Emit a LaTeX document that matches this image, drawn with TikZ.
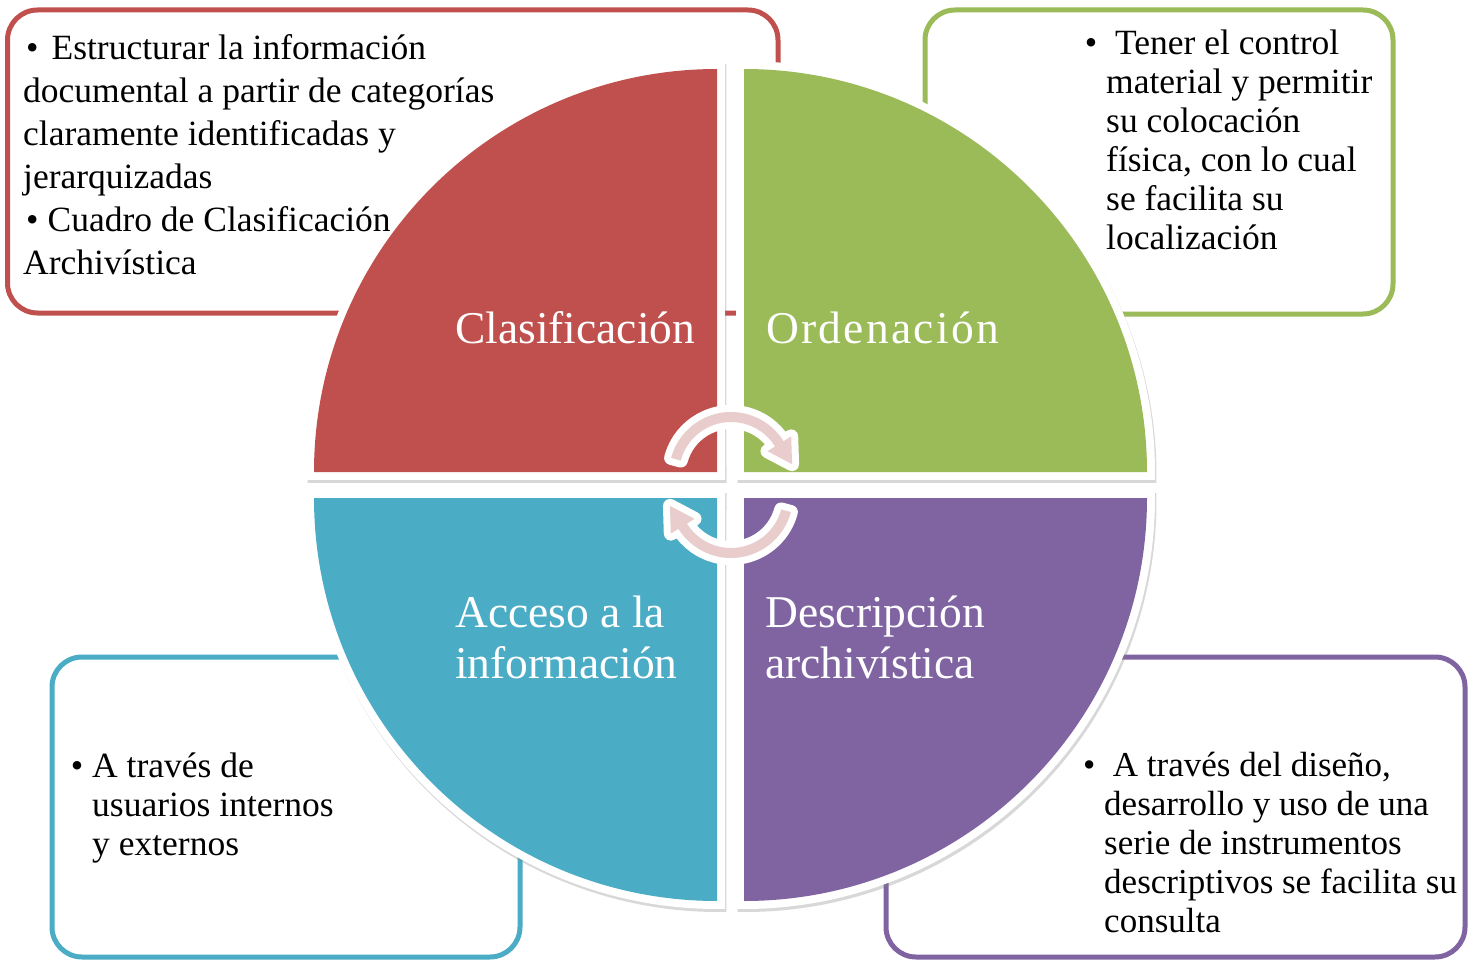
\documentclass[tikz,border=0pt]{standalone}
\usepackage{fontspec}
\setmainfont{Liberation Serif}
\usetikzlibrary{calc,shadows}
\definecolor{qred}{HTML}{C0504D}
\definecolor{qgreen}{HTML}{9BBB59}
\definecolor{qblue}{HTML}{4BACC6}
\definecolor{qpurple}{HTML}{8064A2}
\definecolor{apink}{RGB}{233,205,205}
\newcommand\mylines[2]{\vtop{\baselineskip=#1\lineskiplimit=-100pt\relax #2}}
\newcommand\myquad[3]{%
  \path[qwhite] ($(#1)+({#2+225}:11.31)$) -- ($(#1)+({#2-1.1}:411)$)
     arc[start angle={#2-1.1}, end angle={#2+91.1}, radius=411] -- cycle;
  \fill[#3] (#1) -- ($(#1)+(#2:403)$) arc[start angle=#2, end angle={#2+90}, radius=403] -- cycle;
}
\begin{document}
\begin{tikzpicture}[x=1pt,y=-1pt,
  txt/.style={font=\fontsize{35.5}{39}\selectfont, inner sep=0pt, anchor=base west, text=black},
  lbl/.style={font=\fontsize{45.5}{51}\selectfont, inner sep=0pt, anchor=base west, text=white},
  tbox/.style={draw=#1, line width=5pt, fill=white, rounded corners=30pt, inner sep=0pt},
  qwhite/.style={fill=white, drop shadow={opacity=0.3, shadow xshift=1.5pt, shadow yshift=-3pt}},
  arrowst/.style={drop shadow={opacity=0.35, shadow xshift=3pt, shadow yshift=-4pt},
     preaction={draw=white, line width=14pt, line join=round}, fill=apink}
]
\fill[white] (0,0) rectangle (1468,960);
\useasboundingbox (0,0) rectangle (1468,960);

% text boxes
\node[tbox=qred, minimum width=770.5pt, minimum height=303pt] (boxR) at (392.75,161.5) {};
\node[tbox=qgreen, minimum width=468pt, minimum height=304pt] (boxG) at (1159,162) {};
\node[tbox=qblue, minimum width=468pt, minimum height=300pt] (boxB) at (286,807) {};
\node[tbox=qpurple, minimum width=579pt, minimum height=300pt] (boxP) at (1175.5,807) {};

% quadrants
\coordinate (cR) at (717,472);
\coordinate (cG) at (744,472);
\coordinate (cB) at (717,498);
\coordinate (cP) at (744,498);
\myquad{cR}{180}{qred}
\myquad{cG}{270}{qgreen}
\myquad{cB}{90}{qblue}
\myquad{cP}{0}{qpurple}

% box texts
\node[txt] (tR) at (23,60) {\mylines{43pt}{%
  \hbox{\hspace*{3pt}\textbullet\hspace{13pt}Estructurar la informaci\'on}%
  \hbox{documental a partir de categor\'{\i}as}%
  \hbox{claramente identificadas y}%
  \hbox{jerarquizadas}%
  \hbox{\hspace*{3pt}\textbullet\hspace{9pt}Cuadro de Clasificaci\'on}%
  \hbox{Archiv\'{\i}stica}}};
\node[txt] (tG) at (1106,55) {\mylines{39pt}{%
  \hbox{\llap{\textbullet\ }\ Tener el control}%
  \hbox{material y permitir}%
  \hbox{su colocaci\'on}%
  \hbox{f\'{\i}sica, con lo cual}%
  \hbox{se facilita su}%
  \hbox{localizaci\'on}}};
\node[txt] (tB) at (92,777) {\mylines{39pt}{%
  \hbox{\llap{\textbullet\ }A trav\'es de}%
  \hbox{usuarios internos}%
  \hbox{y externos}}};
\node[txt, font=\fontsize{35}{39}\selectfont] (tP) at (1104,776) {\mylines{39pt}{%
  \hbox{\llap{\textbullet\ }\ A trav\'es del dise\~no,}%
  \hbox{desarrollo y uso de una}%
  \hbox{serie de instrumentos}%
  \hbox{descriptivos se facilita su}%
  \hbox{consulta}}};

% quadrant labels
\node[lbl] (lC) at (455,343) {Clasificaci\'on};
\node[lbl] (lO) at (766,343) {\addfontfeatures{LetterSpace=5}Ordenaci\'on};
\node[lbl] (lA) at (455,627) {\mylines{51pt}{\hbox{Acceso a la}\hbox{informaci\'on}}};
\node[lbl] (lD) at (765,627) {\mylines{51pt}{\hbox{Descripci\'on}\hbox{archiv\'{\i}stica}}};

% circular arrows
\coordinate (c1) at (731,474);
\coordinate (c2) at (731,496);
\path[arrowst] ($(c1)+(195:62)$) arc[start angle=195, end angle=328, radius=62]
  -- ($(c1)+(328:71)$) -- ($(c1)+(328:57)+(58:24)$) -- ($(c1)+(328:43)$)
  -- ($(c1)+(328:52)$) arc[start angle=328, end angle=195, radius=52] -- cycle;
\path[arrowst] ($(c2)+(15:62)$) arc[start angle=15, end angle=148, radius=62]
  -- ($(c2)+(148:71)$) -- ($(c2)+(148:57)+(238:24)$) -- ($(c2)+(148:43)$)
  -- ($(c2)+(148:52)$) arc[start angle=148, end angle=15, radius=52] -- cycle;
\end{tikzpicture}
\end{document}
